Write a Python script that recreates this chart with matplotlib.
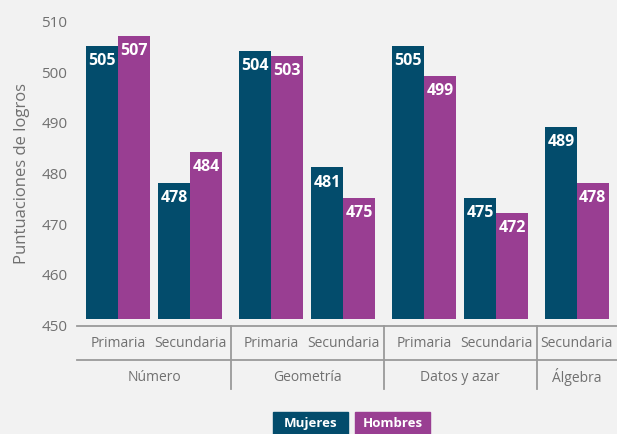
import matplotlib.pyplot as plt
from matplotlib.patches import Rectangle

plt.rcParams['font.family'] = ['Open Sans', 'DejaVu Sans']

# data
areas = ['Número', 'Geometría', 'Datos y azar', 'Álgebra']
levels = [['Primaria', 'Secundaria'], ['Primaria', 'Secundaria'],
          ['Primaria', 'Secundaria'], ['Secundaria']]
mujeres = [505, 478, 504, 481, 505, 475, 489]
hombres = [507, 484, 503, 475, 499, 472, 478]

c_muj = '#034c6c'
c_hom = '#993e92'
bg = '#f2f2f2'
grey = '#707070'
line_c = '#9a9a9a'

# x positions: step 1 inside a group, extra gap between groups
gap = 0.115
pos = []
seps = []
x = 0.0
for gi, lv in enumerate(levels):
    for j in range(len(lv)):
        pos.append(x)
        x += 1
    if gi < len(levels) - 1:
        seps.append(x - 1 + (1 + gap) / 2)
    x += gap

fig = plt.figure(figsize=(6.17, 4.35), dpi=100, facecolor=bg)
ax = fig.add_axes([77 / 617, 1 - 327 / 435, 540 / 617, (327 - 6.3) / 435])
ax.set_facecolor(bg)

w = 0.442
base = 451
b1 = ax.bar([p - w / 2 for p in pos], [v - base for v in mujeres], w,
            bottom=base, color=c_muj, align='center', zorder=2)
b2 = ax.bar([p + w / 2 for p in pos], [v - base for v in hombres], w,
            bottom=base, color=c_hom, align='center', zorder=2)

for bars, vals in [(b1, mujeres), (b2, hombres)]:
    for r, v in zip(bars, vals):
        ax.annotate(str(v), (r.get_x() + r.get_width() / 2, v),
                    xytext=(0, -4.5), textcoords='offset points',
                    ha='center', va='top', color='white',
                    fontsize=11.5, fontweight='bold', zorder=3)

ax.set_xlim(-0.567, 6.90)
ax.set_ylim(449.7, 513)
ax.set_yticks(range(450, 511, 10))
ax.tick_params(axis='y', length=0, pad=7, labelsize=11, labelcolor=grey)
ax.set_xticks([])
for s in ['top', 'right', 'left']:
    ax.spines[s].set_visible(False)
ax.spines['bottom'].set_color(line_c)
ax.spines['bottom'].set_linewidth(1.3)

ax.set_ylabel('Puntuaciones de logros', fontsize=12, color=grey)
ax.yaxis.set_label_coords(-0.087, 0.48)

# two-level category axis
tr = ax.get_xaxis_transform()
i = 0
for gi, lv in enumerate(levels):
    start = i
    for name in lv:
        ax.text(pos[i], -0.053, name, transform=tr, ha='center', va='center',
                fontsize=10, color=grey)
        i += 1
    mid = (pos[start] + pos[i - 1]) / 2
    ax.text(mid, -0.156, areas[gi], transform=tr, ha='center', va='center',
            fontsize=10, color=grey)

ax.plot([-0.567, 6.90], [-0.106, -0.106], transform=tr, color=line_c,
        lw=1.3, clip_on=False)
for s in seps:
    ax.plot([s, s], [0, -0.196], transform=tr, color=line_c, lw=1.3,
            clip_on=False)

# legend boxes
for x0, label, col in [(273, 'Mujeres', c_muj), (355, 'Hombres', c_hom)]:
    fig.patches.append(Rectangle((x0 / 617, 0), 75 / 617, 22 / 435,
                                 transform=fig.transFigure, color=col))
    fig.text((x0 + 37.5) / 617, 1 - 424 / 435, label, ha='center',
             va='center', color='white', fontsize=9.5, fontweight='bold')

fig.savefig('out.png', dpi=100, facecolor=bg)
